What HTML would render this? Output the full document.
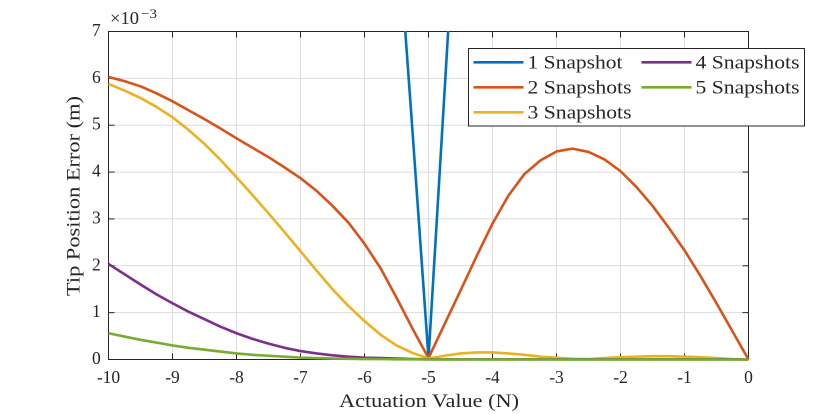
<!DOCTYPE html>
<html lang="en">
<head>
<meta charset="utf-8">
<title>Tip Position Error vs Actuation Value</title>
<style>
  html, body { margin: 0; padding: 0; background: #fff; }
  #chart { display: block; width: 828px; height: 414px; }
  text { font-family: "Liberation Serif", serif; fill: #262626; }
</style>
</head>
<body>
<svg id="chart" xmlns="http://www.w3.org/2000/svg" width="828" height="414" viewBox="0 0 828 414">
  <defs>
    <clipPath id="plot-clip"><rect x="107" y="31" width="643" height="331"></rect></clipPath>
  </defs>
  <rect x="108.5" y="31.5" width="640" height="328" fill="#fff"></rect>
  <g id="grid"></g>
  <g id="axes"></g>
  <g id="labels"></g>
  <g id="series" clip-path="url(#plot-clip)"></g>
  <text x="110" y="24" font-size="17.5" textLength="29" lengthAdjust="spacingAndGlyphs">×10</text>
  <text x="141" y="18" font-size="13" textLength="16" lengthAdjust="spacingAndGlyphs">−3</text>
  <text x="339" y="407" font-size="19" textLength="180" lengthAdjust="spacingAndGlyphs">Actuation Value (N)</text>
  <text transform="translate(79.5,296) rotate(-90)" x="0" y="0" font-size="19" textLength="200" lengthAdjust="spacingAndGlyphs">Tip Position Error (m)</text>
  <g id="legend"></g>
</svg>
<script>
const xValues = [-10,-9.75,-9.5,-9.25,-9,-8.75,-8.5,-8.25,-8,-7.75,-7.5,-7.25,-7,-6.75,-6.5,-6.25,-6,-5.75,-5.5,-5.25,-5,-4.75,-4.5,-4.25,-4,-3.75,-3.5,-3.25,-3,-2.75,-2.5,-2.25,-2,-1.75,-1.5,-1.25,-1,-0.75,-0.5,-0.25,0];
const snapshot1 = [95,90,85,80,75,70,65,60,55,50,45,40,35,30,26,22,18,15,9.6,4.87,0.03,5.7,11.4,16,20,24,27,30,32,34,35,35,34,32,30,28,26,24,22,20,18];
const snapshot2 = [6.03,5.94,5.83,5.68,5.51,5.32,5.13,4.93,4.72,4.52,4.32,4.1,3.87,3.6,3.28,2.92,2.47,1.95,1.32,0.66,0.03,0.75,1.47,2.2,2.9,3.5,3.96,4.25,4.44,4.5,4.43,4.27,4.02,3.68,3.28,2.82,2.33,1.78,1.2,0.6,0];
const snapshot3 = [5.88,5.74,5.58,5.39,5.17,4.9,4.6,4.26,3.89,3.51,3.12,2.72,2.31,1.9,1.5,1.14,0.82,0.53,0.3,0.14,0.02,0.08,0.13,0.15,0.15,0.13,0.1,0.06,0.04,0.015,0.01,0.03,0.05,0.06,0.07,0.07,0.06,0.05,0.03,0.01,0];
const snapshot4 = [2.04,1.82,1.6,1.39,1.2,1.02,0.86,0.7,0.56,0.44,0.34,0.25,0.18,0.13,0.09,0.06,0.04,0.03,0.02,0.01,0.005,0.005,0.005,0.005,0.005,0.005,0.005,0.005,0.005,0.005,0.005,0.005,0.005,0.005,0.005,0.005,0.005,0.005,0.005,0.005,0];
const snapshot5 = [0.56,0.49,0.42,0.36,0.3,0.25,0.21,0.17,0.13,0.1,0.08,0.06,0.04,0.03,0.02,0.015,0.01,0.008,0.005,0.003,0.002,0.002,0.002,0.002,0.002,0.002,0.002,0.002,0.002,0.002,0.002,0.002,0.002,0.002,0.002,0.002,0.002,0.002,0.002,0.002,0];
const seriesNames = ["1 Snapshot","2 Snapshots","3 Snapshots","4 Snapshots","5 Snapshots"];
const xTicks = [-10,-9,-8,-7,-6,-5,-4,-3,-2,-1,0];
const yTicks = [0,1,2,3,4,5,6,7];

const NS = "http://www.w3.org/2000/svg";
const seriesData = [snapshot1, snapshot2, snapshot3, snapshot4, snapshot5];
const seriesColors = ["#0072BD","#D95319","#EDB120","#7E2F8E","#77AC30"];
const X0 = 108.5, X1 = 748.5, Y0 = 359.5, Y1 = 31.5;
function xScale(v) { return X0 + (v + 10) / 10 * (X1 - X0); }
function yScale(v) { return Y0 - v / 7 * (Y0 - Y1); }
function make(tag, attrs, parent) {
  const el = document.createElementNS(NS, tag);
  for (const k in attrs) el.setAttribute(k, attrs[k]);
  parent.appendChild(el);
  return el;
}

const grid = document.getElementById("grid");
const axes = document.getElementById("axes");
const labels = document.getElementById("labels");
const AXIS = "#262626";

xTicks.forEach(function (t) {
  const x = xScale(t);
  const g = make("line", {x1:x, x2:x, y1:Y1, y2:Y0, stroke:"#dbdbdb", "stroke-width":1}, grid);
  
  
  const a = make("line", {x1:x, x2:x, y1:Y0, y2:Y0-6, stroke:AXIS, "stroke-width":1}, axes);
  
  
  const b = make("line", {x1:x, x2:x, y1:Y1, y2:Y1+6, stroke:AXIS, "stroke-width":1}, axes);
  
  
  const l = make("text", {x:x, y:383, "font-size":17.5, "text-anchor":"middle"}, labels);
  
  
  l.textContent = String(t);
});

yTicks.forEach(function (t) {
  const y = yScale(t);
  const g = make("line", {x1:X0, x2:X1, y1:y, y2:y, stroke:"#dbdbdb", "stroke-width":1}, grid);
  
  
  const a = make("line", {x1:X0, x2:X0+6, y1:y, y2:y, stroke:AXIS, "stroke-width":1}, axes);
  
  
  const b = make("line", {x1:X1, x2:X1-6, y1:y, y2:y, stroke:AXIS, "stroke-width":1}, axes);
  
  
  const l = make("text", {x:100.7, y:y+4.5, "font-size":17.5, "text-anchor":"end"}, labels);
  
  
  l.textContent = String(t);
});

const box = make("rect", {x:X0, y:Y1, width:X1-X0, height:Y0-Y1, fill:"none", stroke:AXIS, "stroke-width":1}, axes);



const seriesGroup = document.getElementById("series");
seriesData.forEach(function (vals, i) {
  const pts = vals.map(function (v, j) {
    return xScale(xValues[j]).toFixed(2) + "," + yScale(v).toFixed(2);
  }).join(" ");
  const line = make("polyline", {points:pts, fill:"none", stroke:seriesColors[i], "stroke-width":2.6, "stroke-linejoin":"round"}, seriesGroup);
  
  
});

const legend = document.getElementById("legend");
const legendBox = make("rect", {x:468.5, y:48.5, width:336, height:77.5, fill:"#fff", stroke:AXIS, "stroke-width":1}, legend);



seriesNames.forEach(function (name, i) {
  const col = i < 3 ? 0 : 1;
  const row = i < 3 ? i : i - 3;
  const lx = col === 0 ? 473.5 : 641.5;
  const ly = 62.3 + row * 25;
  const swatch = make("line", {x1:lx, x2:lx+50, y1:ly, y2:ly, stroke:seriesColors[i], "stroke-width":2.6}, legend);
  
  
  const width = name === "1 Snapshot" ? 95 : 104;
  const t = make("text", {x:lx+54, y:ly+6, "font-size":19, fill:"#000", textLength:width, lengthAdjust:"spacingAndGlyphs"}, legend);
  
  
  t.textContent = name;
});
</script>
</body>
</html>
